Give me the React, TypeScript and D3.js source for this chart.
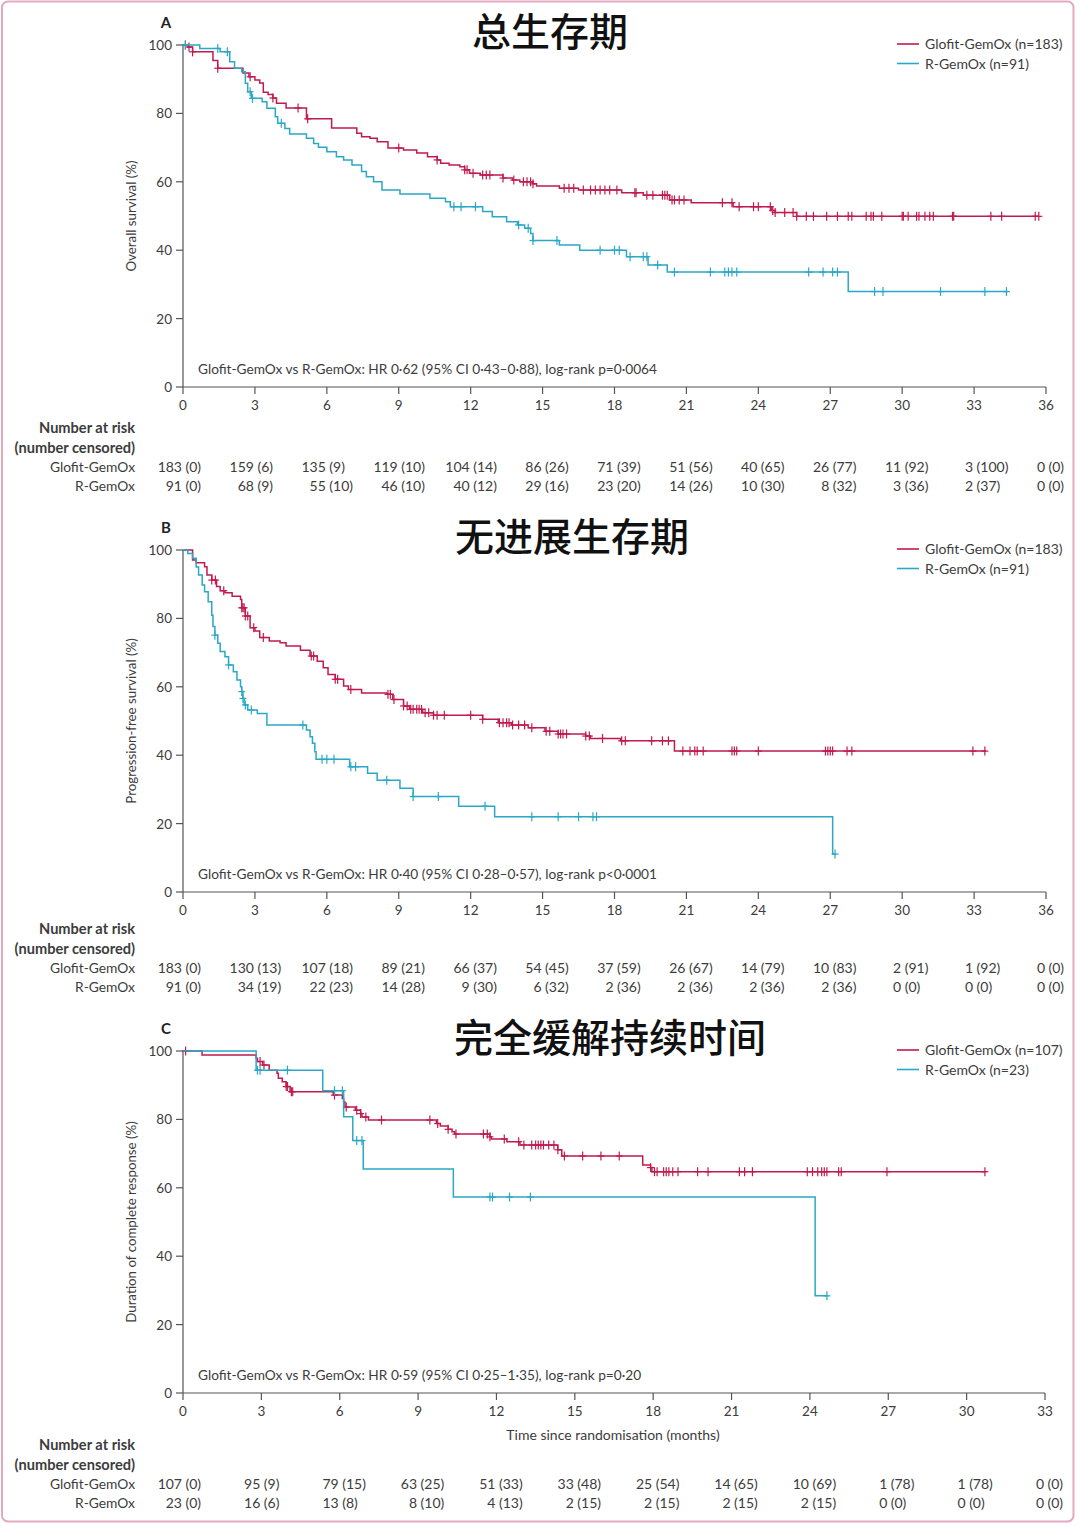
import React from 'react';
import * as d3 from 'd3';

// ---------- Panel A: overall survival ----------
const osGlofitTimes = [0, 0.2, 0.4, 1.25, 1.45, 2.5, 2.75, 3.0, 3.2, 3.35, 3.55, 3.75, 3.9, 4.3, 5.15, 6.2, 7.25, 7.45, 7.8, 8.1, 8.55, 9.2, 9.75, 10.2, 10.6, 10.75, 11.1, 11.55, 11.75, 11.95, 12.4, 13.35, 13.75, 14.05, 14.6, 14.75, 15.7, 16.5, 18.3, 19.2, 20.3, 21.2, 22.95, 24.55, 24.7, 25.6];
const osGlofitSurv = [100, 99.4, 98.0, 95.5, 93.2, 91.8, 90.7, 89.8, 88.9, 86.2, 85.5, 84.5, 83.0, 81.6, 78.4, 75.7, 74.2, 73.2, 72.7, 71.7, 69.9, 69.3, 68.4, 67.3, 66.4, 65.4, 64.9, 64.4, 63.5, 62.5, 62.0, 61.1, 60.5, 60.0, 59.4, 58.8, 58.1, 57.6, 56.8, 56.1, 54.7, 53.9, 52.7, 51.6, 51.0, 49.9];
const osGlofitEnd = 35.7;
const osGlofitCensored = [0.1, 0.25, 0.4, 1.45, 2.8, 3.75, 4.8, 5.2, 9.0, 10.6, 11.75, 11.85, 12.1, 12.5, 12.65, 12.8, 13.35, 13.8, 14.2, 14.35, 14.5, 14.6, 15.9, 16.1, 16.3, 16.7, 17.0, 17.2, 17.4, 17.6, 17.8, 18.1, 18.85, 18.9, 19.35, 19.6, 20.0, 20.1, 20.2, 20.4, 20.5, 20.7, 20.9, 22.5, 22.9, 23.2, 23.8, 24.0, 24.5, 24.6, 24.7, 25.1, 25.45, 25.6, 26.0, 26.3, 26.85, 27.3, 27.75, 27.9, 28.5, 28.7, 28.8, 29.15, 30.0, 30.05, 30.25, 30.6, 30.7, 30.95, 31.15, 31.3, 32.1, 32.15, 33.7, 34.15, 35.55, 35.7];

const osRGemoxTimes = [0, 0.7, 1.55, 1.95, 2.15, 2.45, 2.6, 2.7, 2.85, 3.3, 3.5, 3.85, 3.95, 4.25, 4.45, 5.15, 5.45, 5.65, 6.0, 6.4, 6.7, 7.05, 7.45, 7.65, 7.95, 8.3, 9.05, 10.3, 10.95, 11.15, 12.5, 12.9, 13.5, 13.95, 14.25, 14.5, 14.6, 15.7, 16.55, 18.5, 19.4, 20.2, 27.75];
const osRGemoxSurv = [100, 99.0, 98.0, 95.1, 93.2, 92.2, 88.8, 86.3, 84.4, 83.4, 81.5, 79.0, 77.1, 75.6, 74.0, 72.7, 71.2, 70.1, 68.8, 67.3, 66.4, 64.9, 63.0, 61.5, 60.0, 57.6, 56.4, 55.2, 54.2, 52.7, 51.3, 49.8, 48.3, 47.4, 46.4, 44.9, 42.8, 41.5, 40.0, 38.1, 35.7, 33.6, 27.9];
const osRGemoxEnd = 34.4;
const osRGemoxCensored = [0.1, 1.45, 1.85, 2.8, 2.9, 4.1, 11.3, 11.6, 12.2, 14.0, 14.4, 14.6, 15.6, 17.4, 18.0, 18.2, 18.65, 19.2, 19.35, 19.8, 20.5, 22.0, 22.6, 22.75, 22.9, 23.1, 26.1, 26.7, 27.1, 27.3, 28.85, 29.2, 31.6, 33.45, 34.35];

const osTicks = [0, 3, 6, 9, 12, 15, 18, 21, 24, 27, 30, 33, 36];
const osRiskGlofitN = [183, 159, 135, 119, 104, 86, 71, 51, 40, 26, 11, 3, 0];
const osRiskGlofitC = [0, 6, 9, 10, 14, 26, 39, 56, 65, 77, 92, 100, 0];
const osRiskRGemoxN = [91, 68, 55, 46, 40, 29, 23, 14, 10, 8, 3, 2, 0];
const osRiskRGemoxC = [0, 9, 10, 10, 12, 16, 20, 26, 30, 32, 36, 37, 0];

// ---------- Panel B: progression-free survival ----------
const pfsGlofitTimes = [0, 0.4, 0.55, 0.9, 1.0, 1.2, 1.4, 1.55, 1.75, 2.05, 2.4, 2.45, 2.6, 2.8, 3.0, 3.2, 3.6, 4.05, 4.3, 4.9, 5.3, 5.6, 5.85, 6.05, 6.35, 6.7, 6.9, 7.45, 8.5, 8.75, 9.2, 9.45, 10.0, 10.45, 12.5, 13.15, 13.7, 14.4, 15.1, 15.65, 16.8, 17.0, 18.25, 20.5];
const pfsGlofitSurv = [100, 97.1, 96.3, 95.1, 92.7, 91.2, 89.3, 88.1, 87.5, 86.5, 85.5, 83.1, 80.7, 77.3, 76.3, 74.4, 73.4, 72.9, 71.9, 70.7, 69.0, 67.5, 65.6, 63.6, 62.2, 60.2, 59.2, 58.2, 57.8, 56.3, 54.4, 53.4, 52.4, 51.7, 50.5, 49.5, 48.8, 48.0, 47.0, 46.2, 45.6, 44.9, 44.2, 41.2];
const pfsGlofitEnd = 33.5;
const pfsGlofitCensored = [1.2, 1.35, 1.7, 2.45, 2.5, 2.55, 2.6, 2.7, 2.95, 3.35, 5.35, 5.45, 6.35, 6.45, 7.0, 8.55, 8.65, 8.8, 9.2, 9.35, 9.5, 9.6, 9.75, 9.85, 9.95, 10.1, 10.25, 10.45, 10.6, 10.9, 12.0, 12.5, 13.2, 13.35, 13.5, 13.6, 13.75, 14.0, 14.25, 14.55, 15.15, 15.3, 15.65, 15.75, 15.85, 16.0, 16.8, 16.95, 17.5, 18.3, 18.45, 19.55, 20.0, 20.25, 20.85, 21.15, 21.35, 21.45, 21.7, 22.9, 23.0, 23.1, 24.0, 26.8, 26.9, 27.0, 27.1, 27.7, 27.9, 32.95, 33.45];

const pfsRGemoxTimes = [0, 0.2, 0.4, 0.55, 0.65, 0.8, 0.9, 1.05, 1.2, 1.25, 1.33, 1.45, 1.55, 1.75, 1.9, 2.1, 2.25, 2.4, 2.45, 2.5, 2.55, 2.7, 3.1, 3.5, 5.15, 5.3, 5.4, 5.5, 5.55, 6.95, 7.7, 8.1, 9.05, 9.6, 11.5, 13.0, 27.1];
const pfsRGemoxSurv = [100, 99.0, 97.6, 95.0, 92.7, 89.8, 87.8, 84.9, 80.9, 77.6, 75.1, 72.7, 70.3, 68.8, 66.4, 64.4, 62.0, 60.0, 58.6, 56.6, 54.7, 53.2, 52.2, 48.8, 47.4, 45.4, 43.5, 41.0, 38.8, 36.6, 34.7, 32.7, 30.3, 27.9, 25.1, 22.0, 11.1];
const pfsRGemoxEnd = 27.25;
const pfsRGemoxCensored = [1.33, 1.9, 2.45, 2.5, 2.6, 2.85, 5.0, 5.8, 6.0, 6.3, 7.0, 7.2, 8.5, 9.6, 10.65, 12.6, 14.55, 15.65, 16.5, 17.1, 17.25, 27.2];

const pfsTicks = [0, 3, 6, 9, 12, 15, 18, 21, 24, 27, 30, 33, 36];
const pfsRiskGlofitN = [183, 130, 107, 89, 66, 54, 37, 26, 14, 10, 2, 1, 0];
const pfsRiskGlofitC = [0, 13, 18, 21, 37, 45, 59, 67, 79, 83, 91, 92, 0];
const pfsRiskRGemoxN = [91, 34, 22, 14, 9, 6, 2, 2, 2, 2, 0, 0, 0];
const pfsRiskRGemoxC = [0, 19, 23, 28, 30, 32, 36, 36, 36, 36, 0, 0, 0];

// ---------- Panel C: duration of complete response ----------
const docrGlofitTimes = [0, 0.73, 2.8, 2.85, 3.05, 3.3, 3.6, 3.65, 3.8, 3.95, 4.1, 5.75, 6.1, 6.15, 6.2, 6.6, 6.8, 6.85, 7.1, 9.7, 9.85, 10.15, 10.3, 10.4, 11.75, 11.8, 12.4, 12.9, 14.35, 14.5, 17.6, 17.9, 17.95];
const docrGlofitSurv = [100, 98.8, 97.9, 96.9, 95.9, 94.4, 93.5, 92.0, 91.0, 89.6, 88.1, 87.1, 86.1, 85.1, 83.6, 82.7, 81.7, 80.7, 79.8, 78.8, 78.1, 77.1, 76.4, 75.7, 74.9, 74.3, 73.5, 72.5, 71.1, 69.3, 66.7, 65.9, 64.7];
const docrGlofitEnd = 30.75;
const docrGlofitCensored = [0.1, 2.95, 3.1, 3.95, 4.0, 4.15, 4.2, 5.8, 6.25, 6.65, 6.8, 7.0, 7.6, 9.45, 9.75, 10.15, 10.45, 11.5, 11.65, 11.75, 12.3, 12.85, 13.05, 13.35, 13.5, 13.6, 13.7, 13.8, 14.0, 14.2, 14.35, 14.6, 15.3, 16.0, 16.7, 17.9, 18.05, 18.15, 18.4, 18.5, 18.6, 18.75, 18.95, 19.7, 20.1, 21.3, 21.5, 21.8, 23.9, 24.1, 24.3, 24.45, 24.55, 24.65, 25.1, 25.2, 26.95, 30.7];

const docrRGemoxTimes = [0, 2.8, 5.35, 6.15, 6.5, 6.9, 10.35, 24.2];
const docrRGemoxSurv = [100, 94.4, 88.4, 80.8, 73.8, 65.5, 57.3, 28.4];
const docrRGemoxEnd = 24.7;
const docrRGemoxCensored = [2.85, 2.95, 4.0, 5.8, 6.1, 6.65, 6.85, 11.75, 11.85, 12.5, 13.3, 24.65];

const docrTicks = [0, 3, 6, 9, 12, 15, 18, 21, 24, 27, 30, 33];
const docrRiskGlofitN = [107, 95, 79, 63, 51, 33, 25, 14, 10, 1, 1, 0];
const docrRiskGlofitC = [0, 9, 15, 25, 33, 48, 54, 65, 69, 78, 78, 0];
const docrRiskRGemoxN = [23, 16, 13, 8, 4, 2, 2, 2, 2, 0, 0, 0];
const docrRiskRGemoxC = [0, 6, 8, 10, 13, 15, 15, 15, 15, 0, 0, 0];

const yTicks = [0, 20, 40, 60, 80, 100];

// ---------- styles ----------
const RED = '#c11a4f';
const BLUE = '#2ba8c5';
const AXIS = '#555';
const TEXT = '#3c3c3c';
const FONT = "Lato, 'Open Sans', 'DejaVu Sans', sans-serif";
const CJK = "'Noto Sans CJK SC', 'Noto Sans CJK JP', sans-serif";

type Series = { times: number[]; surv: number[]; end: number; cens: number[]; color: string };

function survAt(times: number[], surv: number[], t: number) {
  let s = surv[0];
  for (let i = 0; i < times.length; i++) if (times[i] <= t) s = surv[i];
  return s;
}

type PanelProps = {
  letter: string;
  title: string;
  titleX: number;
  yTop: number;
  yBot: number;
  xMax: number;
  xRight: number;
  ticks: number[];
  ylabel: string;
  annotation: string;
  legend: string[];
  series: Series[];
  riskN: number[][];
  riskC: number[][];
  riskY: number;
  xTitle?: string;
};

function Panel(p: PanelProps) {
  const x = d3.scaleLinear().domain([0, p.xMax]).range([183, p.xRight]);
  const y = d3.scaleLinear().domain([0, 100]).range([p.yBot, p.yTop]);
  const line = d3
    .line<[number, number]>()
    .x((d) => x(d[0]))
    .y((d) => y(d[1]))
    .curve(d3.curveStepAfter);
  const rowLabels = ['Glofit-GemOx', 'R-GemOx'];
  const ry = p.riskY;
  return (
    <g>
      <text x={166} y={p.yTop - 17} fontFamily={FONT} fontWeight={700} fontSize={15} fill="#222" textAnchor="middle">
        {p.letter}
      </text>
      <text x={p.titleX} y={p.yTop + 1} fontFamily={CJK} fontWeight={500} fontSize={39} fill="#111" textAnchor="middle">
        {p.title}
      </text>
      {/* axes */}
      <line x1={183} x2={183} y1={p.yTop} y2={p.yBot} stroke={AXIS} strokeWidth={1.2} />
      <line x1={183} x2={p.xRight} y1={p.yBot} y2={p.yBot} stroke={AXIS} strokeWidth={1.2} />
      {yTicks.map((t) => (
        <g key={'y' + t}>
          <line x1={176} x2={183} y1={y(t)} y2={y(t)} stroke={AXIS} strokeWidth={1.2} />
          <text x={172} y={y(t) + 5} textAnchor="end" fontFamily={FONT} fontSize={13.5} fill={TEXT}>
            {t}
          </text>
        </g>
      ))}
      {p.ticks.map((t) => (
        <g key={'x' + t}>
          <line x1={x(t)} x2={x(t)} y1={p.yBot} y2={p.yBot + 7} stroke={AXIS} strokeWidth={1.2} />
          <text x={x(t)} y={p.yBot + 23} textAnchor="middle" fontFamily={FONT} fontSize={13.5} fill={TEXT}>
            {t}
          </text>
        </g>
      ))}
      <text
        transform={`translate(136,${(p.yTop + p.yBot) / 2}) rotate(-90)`}
        textAnchor="middle"
        fontFamily={FONT}
        fontSize={13.3}
        fill={TEXT}
      >
        {p.ylabel}
      </text>
      {p.xTitle && (
        <text x={613} y={p.yBot + 47} textAnchor="middle" fontFamily={FONT} fontSize={14} fill={TEXT}>
          {p.xTitle}
        </text>
      )}
      {/* curves */}
      {p.series.map((s, i) => {
        const pts: [number, number][] = s.times.map((t, k) => [t, s.surv[k]] as [number, number]);
        pts.push([s.end, s.surv[s.surv.length - 1]]);
        return (
          <g key={'s' + i}>
            <path d={line(pts) || ''} fill="none" stroke={s.color} strokeWidth={1.5} />
            {s.cens.map((c, k) => {
              const cx = x(c);
              const cy = y(survAt(s.times, s.surv, c));
              return (
                <g key={k} stroke={s.color} strokeWidth={1.2}>
                  <line x1={cx} x2={cx} y1={cy - 4.5} y2={cy + 4.5} />
                  <line x1={cx - 3.5} x2={cx + 3.5} y1={cy} y2={cy} />
                </g>
              );
            })}
          </g>
        );
      })}
      {/* annotation */}
      <text x={198} y={p.yBot - 13} fontFamily={FONT} fontSize={13.7} fill={TEXT}>
        {p.annotation}
      </text>
      {/* legend */}
      {p.legend.map((l, i) => (
        <g key={'l' + i}>
          <line x1={897} x2={919} y1={p.yTop - 1 + i * 19.5} y2={p.yTop - 1 + i * 19.5} stroke={i === 0 ? RED : BLUE} strokeWidth={1.6} />
          <text x={925} y={p.yTop + 4 + i * 19.5} fontFamily={FONT} fontSize={14} fill={TEXT}>
            {l}
          </text>
        </g>
      ))}
      {/* risk table */}
      <text x={135} y={ry} textAnchor="end" fontFamily={FONT} fontWeight={700} fontSize={14.6} fill={TEXT}>
        Number at risk
      </text>
      <text x={135} y={ry + 19.5} textAnchor="end" fontFamily={FONT} fontWeight={700} fontSize={14.6} fill={TEXT}>
        (number censored)
      </text>
      {rowLabels.map((lab, r) => (
        <g key={'r' + r}>
          <text x={135} y={ry + 39 + r * 19} textAnchor="end" fontFamily={FONT} fontSize={13.8} fill={TEXT}>
            {lab}
          </text>
          {p.ticks.map((t, k) => (
            <g key={k}>
              <text x={x(t) - 1} y={ry + 39 + r * 19} textAnchor="end" fontFamily={FONT} fontSize={14} fill={TEXT}>
                {p.riskN[r][k]}
              </text>
              <text x={x(t) + 2.5} y={ry + 39 + r * 19} textAnchor="start" fontFamily={FONT} fontSize={14} fill={TEXT}>
                {'(' + p.riskC[r][k] + ')'}
              </text>
            </g>
          ))}
        </g>
      ))}
    </g>
  );
}

export default function App() {
  return (
    <div style={{ position: 'absolute', left: 0, top: 0, width: 1080, height: 1526, background: '#fff' }}>
      <svg width={1080} height={1526} style={{ display: 'block' }}>
        <rect x={0} y={0} width={1080} height={1526} fill="#fff" />
        <rect x={2} y={1.5} width={1071.5} height={1520} rx={6} fill="none" stroke="#e2a9bf" strokeWidth={2} />
        <Panel
          letter="A"
          title="总生存期"
          titleX={550}
          yTop={45}
          yBot={387}
          xMax={36}
          xRight={1046}
          ticks={osTicks}
          ylabel="Overall survival (%)"
          annotation="Glofit-GemOx vs R-GemOx: HR 0·62 (95% CI 0·43–0·88), log-rank p=0·0064"
          legend={['Glofit-GemOx (n=183)', 'R-GemOx (n=91)']}
          series={[
            { times: osGlofitTimes, surv: osGlofitSurv, end: osGlofitEnd, cens: osGlofitCensored, color: RED },
            { times: osRGemoxTimes, surv: osRGemoxSurv, end: osRGemoxEnd, cens: osRGemoxCensored, color: BLUE },
          ]}
          riskN={[osRiskGlofitN, osRiskRGemoxN]}
          riskC={[osRiskGlofitC, osRiskRGemoxC]}
          riskY={433}
        />
        <Panel
          letter="B"
          title="无进展生存期"
          titleX={572}
          yTop={550}
          yBot={892}
          xMax={36}
          xRight={1046}
          ticks={pfsTicks}
          ylabel="Progression-free survival (%)"
          annotation="Glofit-GemOx vs R-GemOx: HR 0·40 (95% CI 0·28–0·57), log-rank p<0·0001"
          legend={['Glofit-GemOx (n=183)', 'R-GemOx (n=91)']}
          series={[
            { times: pfsGlofitTimes, surv: pfsGlofitSurv, end: pfsGlofitEnd, cens: pfsGlofitCensored, color: RED },
            { times: pfsRGemoxTimes, surv: pfsRGemoxSurv, end: pfsRGemoxEnd, cens: pfsRGemoxCensored, color: BLUE },
          ]}
          riskN={[pfsRiskGlofitN, pfsRiskRGemoxN]}
          riskC={[pfsRiskGlofitC, pfsRiskRGemoxC]}
          riskY={934}
        />
        <Panel
          letter="C"
          title="完全缓解持续时间"
          titleX={610}
          yTop={1051}
          yBot={1393}
          xMax={33}
          xRight={1045}
          ticks={docrTicks}
          ylabel="Duration of complete response (%)"
          annotation="Glofit-GemOx vs R-GemOx: HR 0·59 (95% CI 0·25–1·35), log-rank p=0·20"
          legend={['Glofit-GemOx (n=107)', 'R-GemOx (n=23)']}
          series={[
            { times: docrGlofitTimes, surv: docrGlofitSurv, end: docrGlofitEnd, cens: docrGlofitCensored, color: RED },
            { times: docrRGemoxTimes, surv: docrRGemoxSurv, end: docrRGemoxEnd, cens: docrRGemoxCensored, color: BLUE },
          ]}
          riskN={[docrRiskGlofitN, docrRiskRGemoxN]}
          riskC={[docrRiskGlofitC, docrRiskRGemoxC]}
          riskY={1450}
          xTitle="Time since randomisation (months)"
        />
      </svg>
    </div>
  );
}
